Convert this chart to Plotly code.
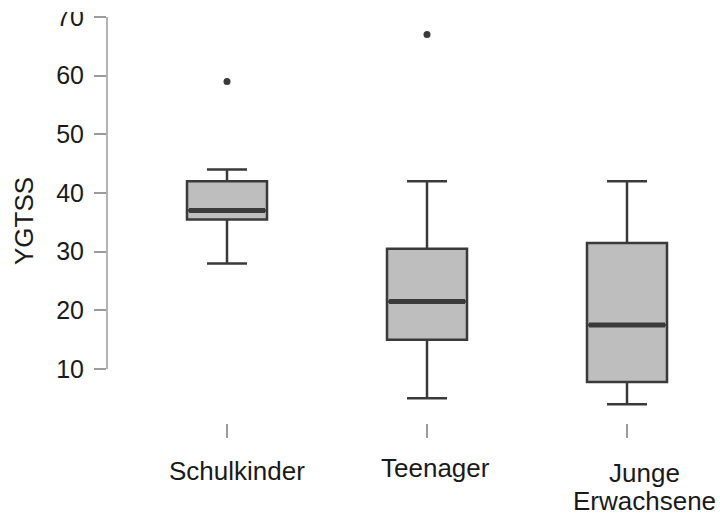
import plotly.graph_objects as go

# Age groups and YGTSS box statistics
categories = ["Schulkinder", "Teenager", "Junge<br>Erwachsene"]
lower_fence = [28, 5, 4]
q1_values = [35.5, 15, 7.8]
median_values = [37, 21.5, 17.5]
q3_values = [42, 30.5, 31.5]
upper_fence = [44, 42, 42]

# Outliers: (group index, value)
outlier_group = [0, 1]
outlier_value = [59, 67]

y_ticks = [10, 20, 30, 40, 50, 60, 70]

BOX_WIDTH = 0.4
FILL = "#BEBEBE"
EDGE = "#3A3A3A"
AXIS_GRAY = "#9A9A9A"
TEXT = "#1A1A1A"
FONT = "Liberation Sans, Arial, sans-serif"

positions = list(range(len(categories)))

fig = go.Figure()

fig.add_trace(go.Box(
    x=positions,
    q1=q1_values,
    median=median_values,
    q3=q3_values,
    lowerfence=lower_fence,
    upperfence=upper_fence,
    width=BOX_WIDTH,
    whiskerwidth=0.5,
    fillcolor=FILL,
    line=dict(color=EDGE, width=2.5),
    boxpoints=False,
    hoverinfo="skip",
    showlegend=False,
))

# Heavier median bars drawn over each box
med_x, med_y = [], []
for p, m in zip(positions, median_values):
    med_x += [p - BOX_WIDTH / 2 + 0.01, p + BOX_WIDTH / 2 - 0.01, None]
    med_y += [m, m, None]
fig.add_trace(go.Scatter(
    x=med_x, y=med_y, mode="lines",
    line=dict(color=EDGE, width=5),
    hoverinfo="skip", showlegend=False,
))

# Outlying points
fig.add_trace(go.Scatter(
    x=outlier_group, y=outlier_value, mode="markers",
    marker=dict(color=EDGE, size=7),
    hoverinfo="skip", showlegend=False,
))

fig.update_layout(
    width=720,
    height=515,
    margin=dict(l=107, r=0, t=0, b=92),
    paper_bgcolor="white",
    plot_bgcolor="white",
    font=dict(family=FONT, color=TEXT),
    xaxis=dict(
        range=[-0.6, 2.465],
        tickvals=positions,
        showticklabels=False,
        ticks="outside",
        ticklen=14,
        tickwidth=1.5,
        tickcolor=AXIS_GRAY,
        showline=False,
        showgrid=False,
        zeroline=False,
    ),
    yaxis=dict(
        range=[0.8, 72.9],
        tickvals=y_ticks,
        ticktext=[str(v) for v in y_ticks],
        ticks="outside",
        ticklen=12,
        tickwidth=1.5,
        tickcolor=AXIS_GRAY,
        ticklabelstandoff=5,
        tickfont=dict(size=25, color=TEXT, family=FONT),
        showline=False,
        showgrid=False,
        zeroline=False,
    ),
)

# Axis line spanning the labelled tick range only
fig.add_shape(
    type="line", xref="paper", yref="y",
    x0=0, x1=0, y0=y_ticks[0], y1=y_ticks[-1],
    line=dict(color=AXIS_GRAY, width=1.5),
)

# White band trimming the upper part of the top tick label
fig.add_shape(
    type="rect", xref="paper", yref="paper", layer="above",
    x0=-0.175, x1=-0.03, y0=1 - 12 / 423, y1=1.01,
    fillcolor="white", line=dict(width=0),
)

# Y-axis title
fig.add_annotation(
    text="YGTSS", xref="paper", yref="paper", x=0, y=0,
    xshift=-83, yshift=202, textangle=-90,
    xanchor="center", yanchor="middle", showarrow=False,
    font=dict(size=26, color=TEXT, family=FONT),
)

# Category labels below each group
label_xshift = [10, 8, 17]
label_yshift = [-48, -45, -50]
LINE_STEP = 28
for p, label, dx, dy in zip(positions, categories, label_xshift, label_yshift):
    for i, line in enumerate(label.split("<br>")):
        fig.add_annotation(
            text=line, xref="x", yref="paper", x=p, y=0,
            xshift=dx, yshift=dy - i * LINE_STEP,
            xanchor="center", yanchor="middle", showarrow=False,
            font=dict(size=26, color=TEXT, family=FONT),
        )

fig.write_html("out.html")
